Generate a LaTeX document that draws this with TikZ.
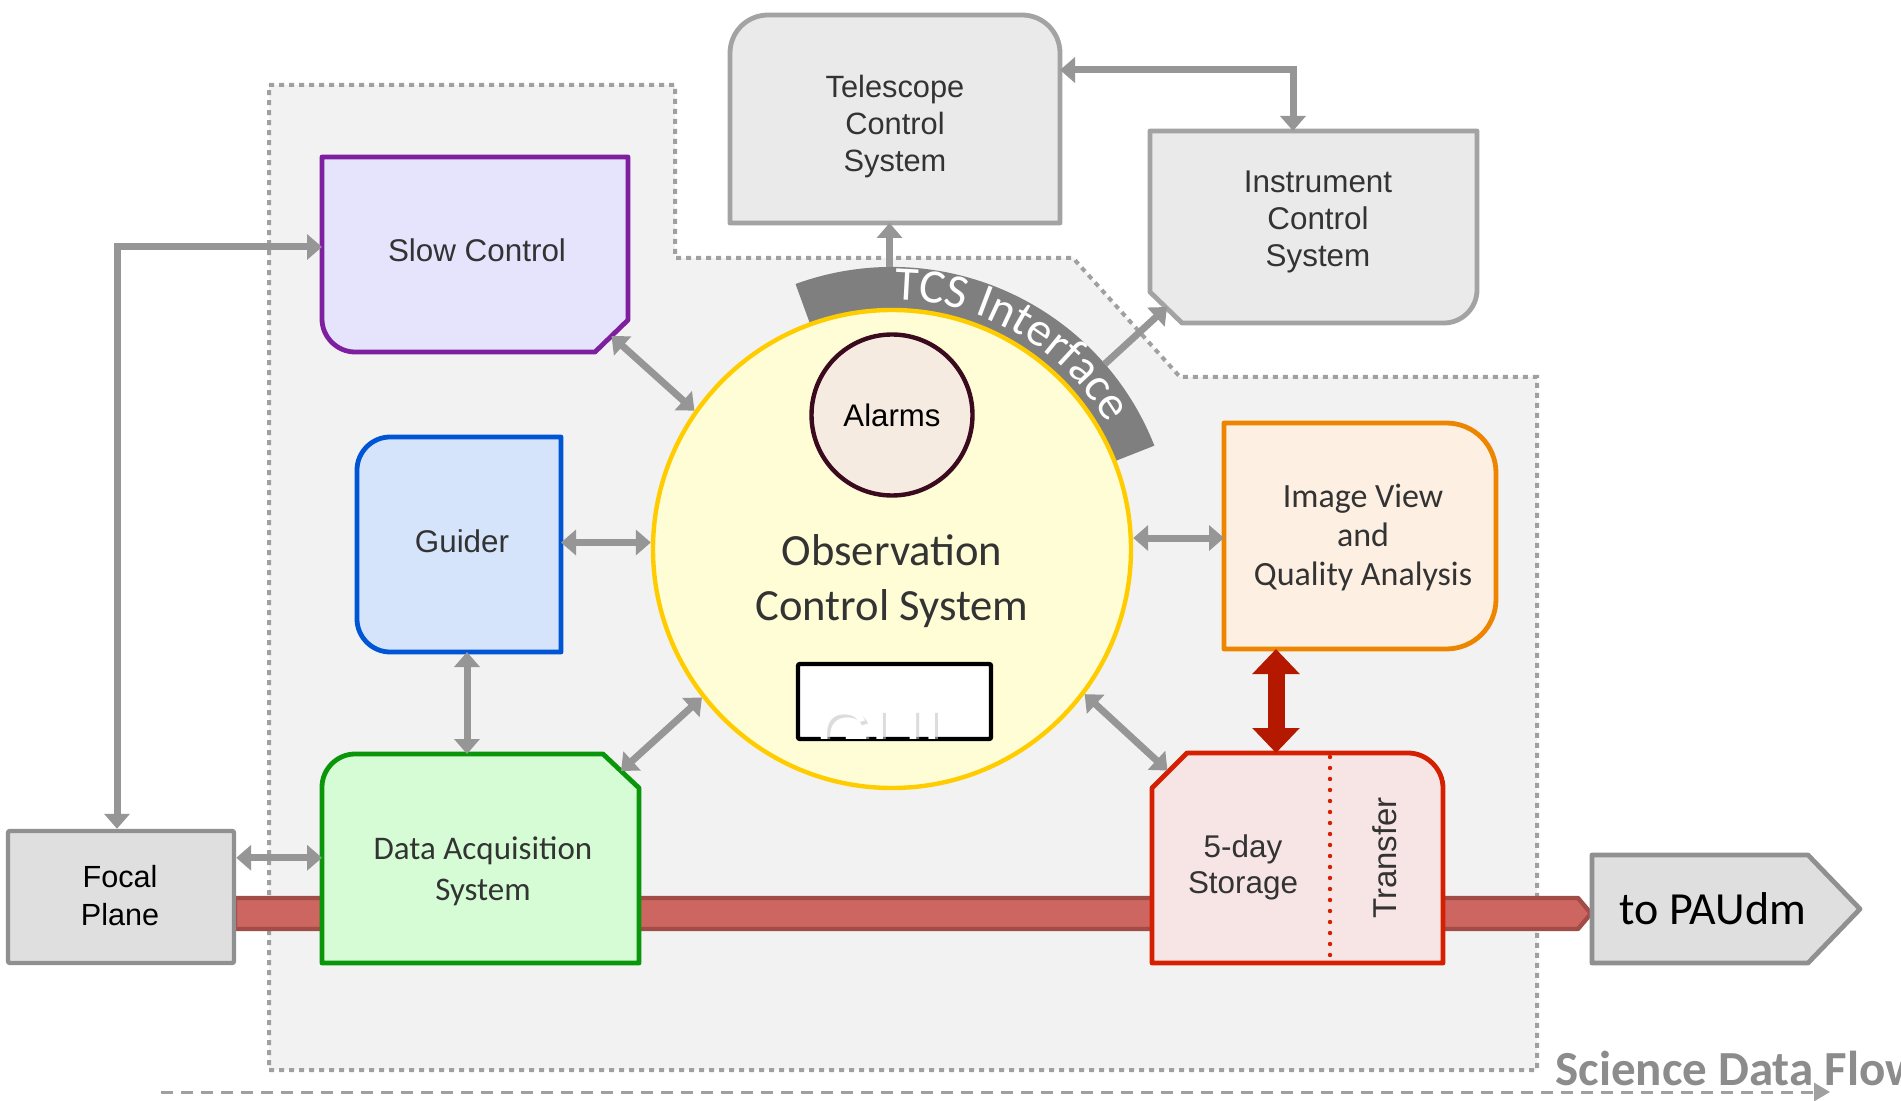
\documentclass[tikz,border=0pt]{standalone}
\usepackage{fontspec}
\setmainfont{Liberation Sans}
\newfontfamily\lsans{Liberation Sans}
\newfontfamily\carl{Carlito}
\usetikzlibrary{arrows.meta,calc,decorations.text}

\definecolor{regionfill}{HTML}{F2F2F2}
\definecolor{regionline}{HTML}{A0A0A0}
\definecolor{argray}{HTML}{969696}
\definecolor{textdark}{HTML}{333333}
\definecolor{slowfill}{HTML}{E6E3FD}
\definecolor{slowline}{HTML}{7E1FA0}
\definecolor{guidfill}{HTML}{D5E3FB}
\definecolor{guidline}{HTML}{0055D5}
\definecolor{ocsfill}{HTML}{FFFDD5}
\definecolor{ocsline}{HTML}{FFCC00}
\definecolor{alfill}{HTML}{F5EBE0}
\definecolor{alline}{HTML}{3B0A1E}
\definecolor{sysfill}{HTML}{EAEAEA}
\definecolor{sysline}{HTML}{A3A3A3}
\definecolor{imgfill}{HTML}{FDEFE2}
\definecolor{imgline}{HTML}{EE8500}
\definecolor{daqfill}{HTML}{D5FCD5}
\definecolor{daqline}{HTML}{0A960A}
\definecolor{stofill}{HTML}{F7E5E5}
\definecolor{stoline}{HTML}{D42000}
\definecolor{focfill}{HTML}{DFDFDF}
\definecolor{focline}{HTML}{909090}
\definecolor{barfill}{HTML}{CD6560}
\definecolor{barline}{HTML}{A24C48}
\definecolor{redarrow}{HTML}{B41900}
\definecolor{bandgray}{HTML}{7F7F7F}
\definecolor{flowgray}{HTML}{8C8C8C}

\pgfdeclarelayer{bg}\pgfdeclarelayer{bar}\pgfdeclarelayer{shp}
\pgfsetlayers{bg,bar,shp,main}

\newcommand\tcsfont{\carl\fontsize{24}{24}\selectfont}

\begin{document}
\begin{tikzpicture}[x=0.5pt,y=-0.5pt,
  area/.style={rectangle,inner sep=0pt,outer sep=0pt},
  shp/.style={line width=2.4pt,line join=round},
  garr/.style={draw=argray,line width=3.5pt,-{Triangle[width=12.5pt,length=7.5pt]}},
  gdbl/.style={draw=argray,line width=3.5pt,{Triangle[width=12.5pt,length=7.5pt]}-{Triangle[width=12.5pt,length=7.5pt]}},
  rdbl/.style={draw=redarrow,line width=8.5pt,{Triangle[width=23pt,length=12.5pt]}-{Triangle[width=23pt,length=12.5pt]}},
  dflow/.style={draw=regionline,line width=1.5pt,dash pattern=on 6pt off 4pt,-{Triangle[width=9pt,length=8pt]}},
  lt/.style={align=center,text=textdark,inner sep=0pt,font={\lsans\fontsize{15.7}{18.7}\selectfont}},
  ct/.style={align=center,text=textdark,inner sep=0pt}
]
\begin{pgfonlayer}{bg}
\fill[white] (0,0) rectangle (1901,1101);
\end{pgfonlayer}
\useasboundingbox (0,0) rectangle (1901,1101);

% ---------- node areas ----------
\node[area,minimum width=153pt,minimum height=97.5pt] (slow) at (475,254.5) {};
\node[area,minimum width=102pt,minimum height=107.5pt] (guider) at (459,544.5) {};
\node[area,minimum width=165pt,minimum height=104pt] (tcs) at (895,119) {};
\node[area,minimum width=163.5pt,minimum height=96pt] (ics) at (1313.5,227) {};
\node[area,minimum width=136pt,minimum height=113pt] (image) at (1360,536) {};
\node[area,minimum width=158.5pt,minimum height=104.5pt] (daq) at (480.5,858.5) {};
\node[area,minimum width=145.5pt,minimum height=105pt] (storage) at (1297.5,858) {};
\node[area,minimum width=134pt,minimum height=54pt] (paudm) at (1726,909) {};
\node[rectangle,draw=focline,fill=focfill,line width=2.2pt,rounded corners=1pt,
      minimum width=113pt,minimum height=66pt] (focal) at (121,897) {};

% ---------- background region ----------
\begin{pgfonlayer}{bg}
\draw[fill=regionfill,draw=regionline,line width=2pt,dash pattern=on 2.5pt off 2.5pt]
  (269,85) -- (675,85) -- (675,258) -- (1073,258) -- (1180,377) -- (1537,377)
  -- (1537,1070) -- (269,1070) -- cycle;
\end{pgfonlayer}

% ---------- science data bar ----------
\begin{pgfonlayer}{bar}
\draw[fill=barfill,draw=barline,line width=2.2pt,line join=round]
  (235,898) -- (1578,898) -- (1591,913.5) -- (1578,929) -- (235,929) -- cycle;
\end{pgfonlayer}

% ---------- shapes ----------
\begin{pgfonlayer}{shp}
% Telescope Control System
\draw[shp,fill=sysfill,draw=sysline]
  (730,223) -- (730,53) .. controls (730,32) and (747,15) .. (768,15) -- (1022,15)
  .. controls (1043,15) and (1060,32) .. (1060,53) -- (1060,223) -- cycle;
% Instrument Control System
\draw[shp,fill=sysfill,draw=sysline]
  (1150,131) -- (1477,131) -- (1477,290) .. controls (1477,308) and (1462,323) .. (1444,323)
  -- (1182,323) -- (1150,292) -- cycle;
% Slow Control
\draw[shp,fill=slowfill,draw=slowline]
  (322,157) -- (628,157) -- (628,320) -- (595,352) -- (355,352)
  .. controls (337,352) and (322,337) .. (322,319) -- cycle;
% Guider
\draw[shp,fill=guidfill,draw=guidline]
  (390,437) -- (561,437) -- (561,652) -- (390,652) .. controls (372,652) and (357,637) .. (357,619)
  -- (357,470) .. controls (357,452) and (372,437) .. (390,437) -- cycle;
% Image View
\draw[shp,fill=imgfill,draw=imgline]
  (1224,423) -- (1446,423) .. controls (1474,423) and (1496,445) .. (1496,473)
  -- (1496,599) .. controls (1496,627) and (1474,649) .. (1446,649) -- (1224,649) -- cycle;
% Data Acquisition
\draw[shp,fill=daqfill,draw=daqline]
  (322,963) -- (322,787) .. controls (322,769) and (337,754) .. (355,754) -- (603,754)
  -- (639,788) -- (639,963) -- cycle;
% Storage
\draw[shp,fill=stofill,draw=stoline]
  (1152,963) -- (1152,788) -- (1187,753) -- (1408,753) .. controls (1427,753) and (1443,769) .. (1443,788)
  -- (1443,963) -- cycle;
\draw[stoline,line width=2.2pt,line cap=round,dash pattern=on 0pt off 5.5pt] (1330,757) -- (1330,960);
% to PAUdm
\draw[shp,fill=focfill,draw=focline]
  (1592,855) -- (1808,855) -- (1860,909) -- (1808,963) -- (1592,963) -- cycle;
\end{pgfonlayer}

% ---------- OCS ----------
\node[circle,draw=ocsline,fill=ocsfill,line width=2.2pt,minimum size=239pt,inner sep=0pt] (ocs) at (892,549) {};
\begin{pgfonlayer}{shp}
\fill[bandgray] ($(ocs.center)+(21.5:141pt)$) arc[start angle=21.5,end angle=110,radius=141pt]
  -- ($(ocs.center)+(110:119pt)$) arc[start angle=110,end angle=21.5,radius=119pt] -- cycle;
\end{pgfonlayer}
\path[decorate,decoration={text along path,text={|\tcsfont\color{white}|TCS Interface}}]
  ($(ocs.center)+(89.5:124.5pt)$) arc[start angle=89.5,end angle=5,radius=124.5pt];

\node[circle,draw=alline,fill=alfill,line width=2.2pt,minimum size=80.5pt,inner sep=0pt] (alarms) at (892,415) {};
\node[inner sep=0pt,font={\lsans\fontsize{15.6}{18}\selectfont}] (alarmst) at (892,415.5) {Alarms};
\node[ct,font={\carl\fontsize{22.3}{27.5}\selectfont}] (ocst) at (892,581.5) {Observation\\Control System};

\node[rectangle,draw=black,fill=white,line width=2.2pt,rounded corners=1pt,
      minimum width=96.5pt,minimum height=37.5pt] (gui) at (894.5,701.5) {};
\begin{scope}
\clip ($(gui.north west)+(3,3)$) rectangle ($(gui.south east)+(-3,-3)$);
\node[anchor=base west,inner sep=0pt,text=gray!45,opacity=0.6,font={\lsans\fontsize{35}{35}\selectfont}] (guishadow) at (820,761) {GUI};
\node[anchor=base west,inner sep=0pt,text=white,font={\lsans\fontsize{35}{35}\selectfont}] (guit) at (817,758) {GUI};
\end{scope}

% ---------- texts ----------
\node[lt] (slowt) at (477,250.5) {Slow Control};
\node[lt] (guidert) at (462,541.5) {Guider};
\node[lt,font={\lsans\fontsize{15.4}{18.5}\selectfont}] (tcst) at (895,126.5) {Telescope\\Control\\System};
\node[lt] (icst) at (1318,222) {Instrument\\Control\\System};
\node[ct,font={\carl\fontsize{17}{19.5}\selectfont}] (imaget) at (1363,537.5) {Image View\\and\\Quality Analysis};
\node[ct,font={\carl\fontsize{16.5}{20.5}\selectfont}] (daqt) at (483,871) {Data Acquisition\\System};
\node[lt,font={\lsans\fontsize{15.7}{18}\selectfont}] (stot) at (1243,867) {5-day\\Storage};
\node[lt,rotate=90,font={\lsans\fontsize{16.5}{18}\selectfont}] (transt) at (1385,858) {Transfer};
\node[lt,text=black,font={\lsans\fontsize{15.3}{19}\selectfont}] (focalt) at (120,896) {Focal\\Plane};
\node[ct,text=black,font={\carl\fontsize{23}{23}\selectfont}] (paudmt) at (1713,909) {to PAUdm};
\node[anchor=base west,inner sep=0pt,text=flowgray,font={\carl\bfseries\fontsize{24.5}{24.5}\selectfont}] (flowt) at (1555,1085) {Science Data Flow};

% ---------- connectors ----------
\coordinate (ti) at ($(tcs.north east)+(0,55)$);
\coordinate (icsin) at ($(ics.north)+(-20.5,0)$);
\draw[gdbl] (ti) -| (icsin);
\coordinate (bt) at ($(ocs.center)+(90.5:141pt)$);
\draw[garr] (bt) -- (bt |- tcs.south);
\coordinate (bi) at ($(ocs.center)+(41:141pt)$);
\coordinate (icsc) at ($(ics.south west)+(17,-16)$);
\draw[garr] (bi) -- (icsc);
\coordinate (slowc) at ($(slow.south east)+(-16.5,-16)$);
\draw[gdbl] (slowc) -- (ocs.145);
\draw[gdbl] ($(guider.east)+(0,-2)$) -- ($(ocs.west |- guider.east)+(0,-2)$);
\coordinate (gd) at ($(guider.south)+(8,0)$);
\draw[gdbl] (gd) -- (gd |- daq.north);
\coordinate (daqc) at ($(daq.north east)+(-18,17)$);
\draw[gdbl] (ocs.218) -- (daqc);
\draw[gdbl] ($(ocs.east |- image.west)+(0,2)$) -- ($(image.west)+(0,2)$);
\coordinate (stoc) at ($(storage.north west)+(15.5,17.5)$);
\draw[gdbl] (ocs.323) -- (stoc);
\coordinate (fd) at ($(focal.north east)+(0,29)$);
\draw[gdbl] (fd) -- (fd -| daq.west);
\coordinate (fs) at ($(focal.north)+(-4,0)$);
\coordinate (sw) at ($(slow.west)+(0,-7.5)$);
\draw[gdbl] (fs) |- (sw);
\coordinate (rd) at ($(image.south west)+(52,0)$);
\draw[rdbl] (rd) -- (rd |- storage.north);
\coordinate (ds) at (161,1092);
\coordinate (de) at (1830,1092);
\draw[dflow] (ds) -- (de);
\end{tikzpicture}
\end{document}
